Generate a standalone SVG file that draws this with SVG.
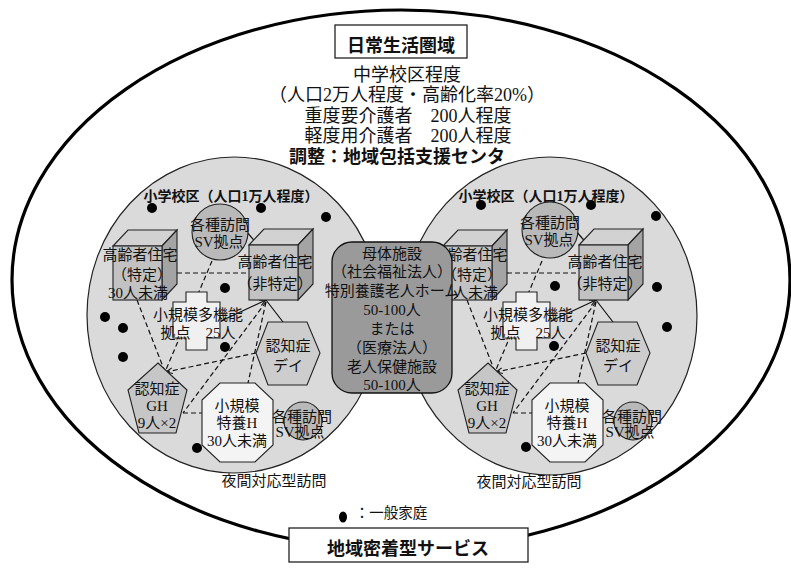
<svg xmlns="http://www.w3.org/2000/svg" width="791" height="575" viewBox="0 0 791 575">
<style>
text{font-family:'Liberation Serif','Noto Sans CJK JP',serif;fill:#111;text-anchor:middle}
.t15{font-size:15px}
.t18{font-size:18px}
.b{font-weight:bold;font-family:'Liberation Serif','Noto Sans CJK JP',sans-serif}
.zone{fill:#dadada;stroke:#222;stroke-width:1.2}
.cf{fill:#c2c2c2;stroke:#222;stroke-width:1.1}
.ct{fill:#d2d2d2;stroke:#222;stroke-width:1.1}
.cs{fill:#a4a4a4;stroke:#222;stroke-width:1.1}
.sv{fill:#b9b9b9;stroke:#222;stroke-width:1.1}
.cross{fill:#f0f0f0;stroke:#222;stroke-width:1.1}
.oct{fill:#f4f4f4;stroke:#222;stroke-width:1.1}
.hex{fill:#cdcdcd;stroke:#222;stroke-width:1.1}
.pent{fill:#c6c6c6;stroke:#222;stroke-width:1.1}
.dot{fill:#000}
.dash{fill:none;stroke:#111;stroke-width:1.2;stroke-dasharray:5,3}
.solid{fill:none;stroke:#111;stroke-width:1.2}
</style>
<defs>
<marker id="arr" viewBox="0 0 10 10" refX="9" refY="5" markerWidth="6" markerHeight="6" orient="auto">
<path d="M0,1 L9,5 L0,9" fill="none" stroke="#111" stroke-width="1.5"/>
</marker>
</defs>
<rect width="791" height="575" fill="#fff"/>

<g id="outer">
<ellipse cx="401" cy="280" rx="389" ry="270" fill="none" stroke="#000" stroke-width="3.2"/>
</g>

<g id="title">
<rect x="335" y="25" width="132" height="33" fill="#fff" stroke="#222" stroke-width="1.3"/>
<text x="401" y="52" class="t18 b">日常生活圏域</text>
</g>

<g id="info">
<text x="407" y="81" class="t18">中学校区程度</text>
<text x="407" y="101" class="t18">（人口2万人程度・高齢化率20%）</text>
<text x="408" y="122" class="t18">重度要介護者　200人程度</text>
<text x="408" y="142" class="t18">軽度用介護者　200人程度</text>
<text x="397" y="163" class="t18 b">調整：地域包括支援センタ</text>
</g>

<!-- left zone -->
<g id="zoneL">
<ellipse cx="234" cy="315" rx="147" ry="158" class="zone"/>
<text x="231" y="201" style="font-size:14px" class="b">小学校区（人口1万人程度）</text>
<g class="dot">
<circle cx="152" cy="208" r="5"/><circle cx="261" cy="208" r="5"/><circle cx="326" cy="217" r="5"/>
<circle cx="225" cy="288" r="5"/><circle cx="105" cy="317" r="5"/><circle cx="123" cy="328" r="5"/>
<circle cx="123" cy="357" r="5"/><circle cx="225" cy="347" r="5"/><circle cx="197" cy="448" r="5"/>
</g>
<text x="274" y="486" class="t15">夜間対応型訪問</text>
</g>

<!-- right zone -->
<g id="zoneR">
<ellipse cx="550" cy="316" rx="147" ry="159" class="zone"/>
<g class="dot">
<circle cx="591" cy="205" r="5"/><circle cx="656" cy="216" r="5"/>
<circle cx="555" cy="286" r="5"/><circle cx="657" cy="287" r="5"/><circle cx="667" cy="327" r="5"/>
<circle cx="554" cy="346" r="5"/><circle cx="526" cy="447" r="5"/>
</g>
<text x="546" y="201" style="font-size:14px" class="b">小学校区（人口1万人程度）</text>
<circle cx="481" cy="205" r="5" class="dot"/>
<text x="529" y="487" class="t15">夜間対応型訪問</text>
</g>

<!-- connectors -->
<g id="connectors">
<g id="connL">
<line x1="177" y1="273" x2="249" y2="273" class="dash"/>
<line x1="246" y1="231" x2="258" y2="245" class="solid"/>
<line x1="212" y1="261" x2="165" y2="372" class="dash"/>
<line x1="137" y1="300" x2="165" y2="372" class="dash"/>
<line x1="266" y1="302" x2="183" y2="413" class="dash"/>
<line x1="266" y1="302" x2="248" y2="383" class="dash"/>
<line x1="256" y1="353" x2="166" y2="372" class="dash" marker-end="url(#arr)"/>
<line x1="183" y1="413" x2="202" y2="413" class="dash"/>
<line x1="221" y1="321" x2="266" y2="300" class="solid" marker-end="url(#arr)"/>
<line x1="266" y1="300" x2="283" y2="322" class="solid"/>
</g>
<g id="connR" transform="translate(330,0)">
<line x1="177" y1="273" x2="249" y2="273" class="dash"/>
<line x1="246" y1="231" x2="258" y2="245" class="solid"/>
<line x1="212" y1="261" x2="165" y2="372" class="dash"/>
<line x1="137" y1="300" x2="165" y2="372" class="dash"/>
<line x1="266" y1="302" x2="183" y2="413" class="dash"/>
<line x1="266" y1="302" x2="248" y2="383" class="dash"/>
<line x1="256" y1="353" x2="166" y2="372" class="dash" marker-end="url(#arr)"/>
<line x1="183" y1="413" x2="202" y2="413" class="dash"/>
<line x1="221" y1="321" x2="266" y2="300" class="solid" marker-end="url(#arr)"/>
<line x1="266" y1="300" x2="283" y2="322" class="solid"/>
</g>
</g>

<!-- left nodes -->
<g id="L-house1">
<polygon points="113,246 128,230 177,230 162,246" class="ct"/>
<polygon points="162,246 177,230 177,284 162,300" class="cs"/>
<rect x="113" y="246" width="49" height="54" class="cf"/>
<text x="140" y="260" class="t15">高齢者住宅</text>
<text x="142" y="280" class="t15">（特定）</text>
<text x="138" y="298" class="t15">30人未満</text>
</g>
<g id="L-sv1">
<circle cx="220" cy="232" r="28" class="sv"/>
<text x="220" y="230" class="t15">各種訪問</text>
<text x="219" y="247" class="t15">SV拠点</text>
</g>
<g id="L-house2">
<polygon points="249,245 264,229 313,229 298,245" class="ct"/>
<polygon points="298,245 313,229 313,284 298,300" class="cs"/>
<rect x="249" y="245" width="49" height="55" class="cf"/>
<text x="275" y="267" class="t15">高齢者住宅</text>
<text x="275" y="289" class="t15">（非特定）</text>
</g>
<g id="L-multi">
<polygon points="186,292 207,292 207,302 220,302 220,338 207,338 207,350 186,350 186,338 173,338 173,302 186,302" class="cross"/>
<text x="198" y="320" class="t15">小規模多機能</text>
<text x="198" y="338" class="t15">拠点　25人</text>
</g>
<g id="L-day">
<polygon points="268,322 307,322 320,353 307,385 268,385 256,353" class="hex"/>
<text x="288" y="351" class="t15">認知症</text>
<text x="288" y="371" class="t15">デイ</text>
</g>
<g id="L-gh">
<polygon points="158,363 187,390 176,433 139,433 128,390" class="pent"/>
<text x="157" y="394" class="t15">認知症</text>
<text x="157" y="411" class="t15">GH</text>
<text x="157" y="428" class="t15">9人×2</text>
</g>
<g id="L-tokuyo">
<polygon points="220,383 255,383 273,400 273,445 255,462 220,462 202,445 202,400" class="oct"/>
<text x="237" y="411" class="t15">小規模</text>
<text x="237" y="428" class="t15">特養H</text>
<text x="237" y="446" class="t15">30人未満</text>
</g>
<g id="L-sv2">
<circle cx="303" cy="421" r="19" class="sv"/>
<text x="302" y="422" class="t15">各種訪問</text>
<text x="300" y="437" class="t15">SV拠点</text>
</g>

<!-- right nodes -->
<g id="R-house1" transform="translate(330,0)">
<polygon points="113,246 128,230 177,230 162,246" class="ct"/>
<polygon points="162,246 177,230 177,284 162,300" class="cs"/>
<rect x="113" y="246" width="49" height="54" class="cf"/>
<text x="140" y="260" class="t15">高齢者住宅</text>
<text x="142" y="280" class="t15">（特定）</text>
<text x="138" y="298" class="t15">30人未満</text>
</g>
<g id="R-sv1" transform="translate(330,0)">
<circle cx="220" cy="230" r="28" class="sv"/>
<text x="220" y="228" class="t15">各種訪問</text>
<text x="219" y="245" class="t15">SV拠点</text>
</g>
<g id="R-house2" transform="translate(330,0)">
<polygon points="249,245 264,229 313,229 298,245" class="ct"/>
<polygon points="298,245 313,229 313,284 298,300" class="cs"/>
<rect x="249" y="245" width="49" height="55" class="cf"/>
<text x="275" y="267" class="t15">高齢者住宅</text>
<text x="275" y="289" class="t15">（非特定）</text>
</g>
<g id="R-multi" transform="translate(330,0)">
<polygon points="186,292 207,292 207,302 220,302 220,338 207,338 207,350 186,350 186,338 173,338 173,302 186,302" class="cross"/>
<text x="198" y="320" class="t15">小規模多機能</text>
<text x="198" y="338" class="t15">拠点　25人</text>
</g>
<g id="R-day" transform="translate(330,0)">
<polygon points="268,322 307,322 320,353 307,385 268,385 256,353" class="hex"/>
<text x="288" y="351" class="t15">認知症</text>
<text x="288" y="371" class="t15">デイ</text>
</g>
<g id="R-gh" transform="translate(330,0)">
<polygon points="158,363 187,390 176,433 139,433 128,390" class="pent"/>
<text x="157" y="394" class="t15">認知症</text>
<text x="157" y="411" class="t15">GH</text>
<text x="157" y="428" class="t15">9人×2</text>
</g>
<g id="R-tokuyo" transform="translate(330,0)">
<polygon points="220,383 255,383 273,400 273,445 255,462 220,462 202,445 202,400" class="oct"/>
<text x="237" y="411" class="t15">小規模</text>
<text x="237" y="428" class="t15">特養H</text>
<text x="237" y="446" class="t15">30人未満</text>
</g>
<g id="R-sv2" transform="translate(330,0)">
<circle cx="303" cy="421" r="19" class="sv"/>
<text x="302" y="422" class="t15">各種訪問</text>
<text x="300" y="437" class="t15">SV拠点</text>
</g>

<!-- central facility -->
<g id="center">
<rect x="332" y="242" width="120" height="151" rx="20" ry="20" fill="#9a9a9a" stroke="#111" stroke-width="1.3"/>
<text x="392" y="259" class="t15">母体施設</text>
<text x="392" y="277" class="t15">（社会福祉法人）</text>
<text x="392" y="296" class="t15">特別養護老人ホーム</text>
<text x="392" y="315" class="t15">50-100人</text>
<text x="392" y="334" class="t15">または</text>
<text x="392" y="353" class="t15">（医療法人）</text>
<text x="392" y="372" class="t15">老人保健施設</text>
<text x="392" y="390" class="t15">50-100人</text>
</g>

<g id="legend">
<ellipse cx="343" cy="517" rx="4" ry="5.5" class="dot"/>
<text x="391" y="518" style="font-size:14.5px">：一般家庭</text>
</g>

<g id="bottom">
<rect x="289" y="528" width="239" height="34" fill="#fff" stroke="#222" stroke-width="1.3"/>
<text x="408" y="555" class="t18 b">地域密着型サービス</text>
</g>
</svg>
